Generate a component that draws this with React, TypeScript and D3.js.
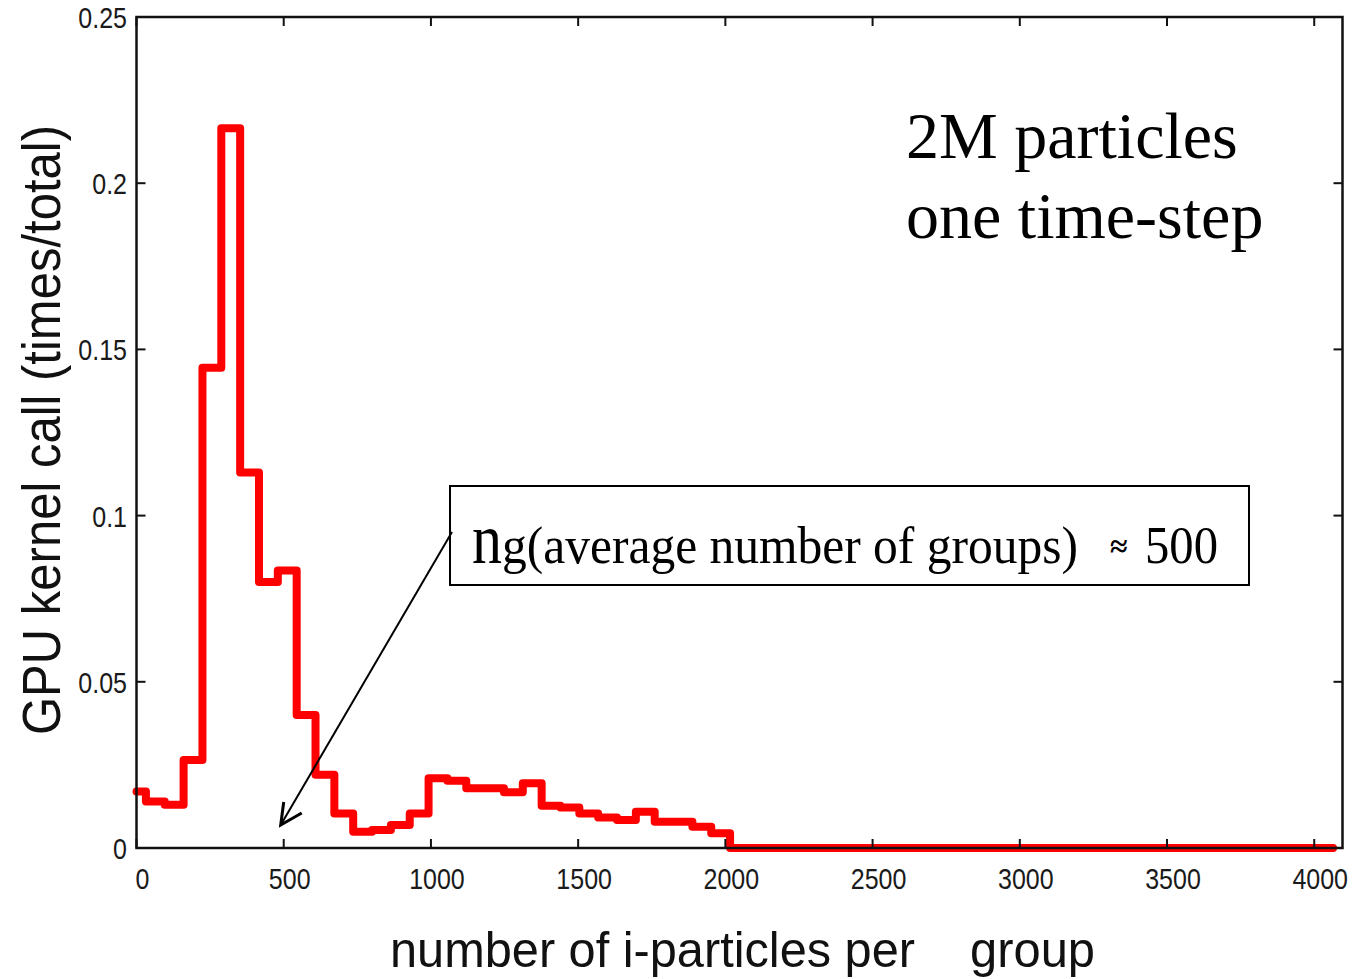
import React from "react";
import * as d3 from "d3";

const binStarts = [0, 32, 96, 160, 224, 288, 352, 416, 480, 544, 608, 672, 736, 800, 864, 928, 992, 1056, 1120, 1184, 1248, 1312, 1376, 1440, 1504, 1568, 1632, 1696, 1760, 1824, 1888, 1952, 2016, 4064];
const binValues = [0.017, 0.014, 0.013, 0.0265, 0.1445, 0.2165, 0.113, 0.08, 0.0835, 0.04, 0.022, 0.0104, 0.0049, 0.0054, 0.0069, 0.0104, 0.021, 0.0202, 0.018, 0.018, 0.0168, 0.0195, 0.0127, 0.0122, 0.0104, 0.0092, 0.0084, 0.0109, 0.0079, 0.0079, 0.0064, 0.0044, 0, 0];
const xTicks = [0, 500, 1000, 1500, 2000, 2500, 3000, 3500, 4000];
const yTicks = [0, 0.05, 0.1, 0.15, 0.2, 0.25];
const yTickLabels = ["0", "0.05", "0.1", "0.15", "0.2", "0.25"];
const xDomain = [0, 4096];
const yDomain = [0, 0.25];
const titleLines = ["2M particles", "one time-step"];
const xLabelParts = ["number of i-particles per", "group"];
const yLabel = "GPU kernel call (times/total)";
const annotationValue = 500;

function labelWidth(s: string) {
  let w = 0;
  for (const c of s) w += c === "." ? 0.278 : 0.556;
  return w * 25;
}

export default function App() {
  const W = 1355, H = 979;
  const L = 136.5, R = 1342.5, T = 17, B = 848;
  const x = d3.scaleLinear().domain(xDomain).range([L, R]);
  const y = d3.scaleLinear().domain(yDomain).range([B, T]);
  const pts: [number, number][] = binStarts.map((s, i) => [s, binValues[i]]);
  const line = d3
    .line<[number, number]>()
    .x((d) => x(d[0]))
    .y((d) => y(d[1]))
    .curve(d3.curveStepAfter);
  const tickLen = 9;
  const tickColor = "#1a1a1a";
  const sans = "'Liberation Sans', Arial, sans-serif";
  const serif = "'Liberation Serif', 'Times New Roman', serif";

  const ax0 = 452, ay0 = 532;
  const ax1 = x(annotationValue) - 3, ay1 = 825;

  return (
    <div style={{ position: "absolute", left: 0, top: 0 }}>
      <svg width={W} height={H} style={{ display: "block", background: "#fff" }}>
        <rect x={0} y={0} width={W} height={H} fill="#fff" />
        <path
          d={line(pts) || ""}
          fill="none"
          stroke="#ff0000"
          strokeWidth={8}
          strokeLinejoin="round"
          strokeLinecap="round"
        />
        <rect x={L} y={T} width={R - L} height={B - T} fill="none" stroke="#111" strokeWidth={2.5} />
        {xTicks.map((t) => {
          const s = String(t);
          const w = labelWidth(s);
          const cx = x(t) + 6;
          return (
            <g key={"xt" + t}>
              <line x1={x(t)} x2={x(t)} y1={B} y2={B - tickLen} stroke="#111" strokeWidth={2} />
              <line x1={x(t)} x2={x(t)} y1={T} y2={T + tickLen} stroke="#111" strokeWidth={2} />
              <text
                x={cx - w / 2}
                y={889}
                fontFamily={sans}
                fontSize={30}
                fill={tickColor}
                textLength={w}
                lengthAdjust="spacingAndGlyphs"
              >
                {s}
              </text>
            </g>
          );
        })}
        {yTicks.map((t, i) => {
          const s = yTickLabels[i];
          const w = labelWidth(s);
          return (
            <g key={"yt" + t}>
              <line x1={L} x2={L + tickLen} y1={y(t)} y2={y(t)} stroke="#111" strokeWidth={2} />
              <line x1={R} x2={R - tickLen} y1={y(t)} y2={y(t)} stroke="#111" strokeWidth={2} />
              <text
                x={127 - w}
                y={y(t) + 11}
                fontFamily={sans}
                fontSize={30}
                fill={tickColor}
                textLength={w}
                lengthAdjust="spacingAndGlyphs"
              >
                {s}
              </text>
            </g>
          );
        })}
        <text
          transform="translate(60,430) rotate(-90)"
          textAnchor="middle"
          fontFamily={sans}
          fontSize={54}
          fill="#111"
          textLength={610}
          lengthAdjust="spacingAndGlyphs"
        >
          {yLabel}
        </text>
        <text fontFamily={sans} fontSize={50} fill="#111" y={967}>
          <tspan x={390} textLength={525} lengthAdjust="spacingAndGlyphs">{xLabelParts[0]}</tspan>
          <tspan x={970} textLength={125} lengthAdjust="spacingAndGlyphs">{xLabelParts[1]}</tspan>
        </text>
        <text fontFamily={serif} fontSize={66} fill="#000">
          <tspan x={906} y={158}>{titleLines[0]}</tspan>
          <tspan x={906} y={238}>{titleLines[1]}</tspan>
        </text>
        <rect x={450} y={486} width={799} height={99} fill="#fff" stroke="#000" strokeWidth={2} />
        <text fontFamily={serif} fill="#000" y={563}>
          <tspan x={472} fontSize={72} textLength={30} lengthAdjust="spacingAndGlyphs">n</tspan>
          <tspan x={502} fontSize={53} textLength={576} lengthAdjust="spacingAndGlyphs">g(average number of groups)</tspan>
        </text>
        <text x={1110} y={557} fontFamily={serif} fontSize={32} fontWeight="bold" fill="#000">≈</text>
        <text x={1145} y={563} fontFamily={serif} fontSize={53} textLength={73} lengthAdjust="spacingAndGlyphs" fill="#000">
          {String(annotationValue)}
        </text>
        <line x1={ax0} y1={ay0} x2={ax1} y2={ay1} stroke="#000" strokeWidth={2} />
        <polyline
          points={`${ax1 + 3},${ay1 - 23} ${ax1},${ay1} ${ax1 + 21},${ay1 - 12}`}
          fill="none"
          stroke="#000"
          strokeWidth={3}
        />
      </svg>
    </div>
  );
}
